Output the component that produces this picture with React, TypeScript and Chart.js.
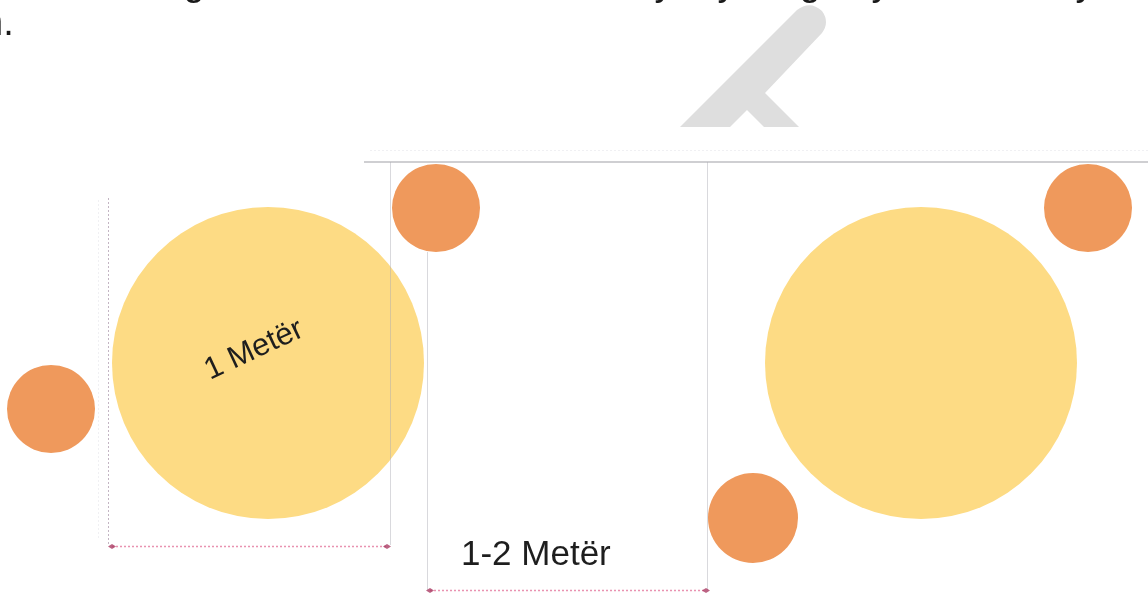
import React, { useEffect, useRef } from "react";
import { Chart, registerables } from "chart.js";

Chart.register(...registerables);

const W = 1148;
const H = 594;

// Large (yellow) circles
const bigX = [268, 921];
const bigY = [363, 363];
const bigR = [156, 156];

// Small (orange) circles
const smallX = [436, 51, 1088, 753];
const smallY = [208, 409, 208, 518];
const smallR = [44, 44, 44, 45];

const labelOne = "1 Metër";
const labelTwo = "1-2 Metër";
const topFragment = "n.";
const topGlyphs = ["g", ",", ",", "y", "y", "g", "y", ",", "y", ","];
const topGlyphX = [194, 288, 462, 664, 727, 810, 881, 1043, 1085, 1136];

const YELLOW = "#FDDB84";
const ORANGE = "#EF995C";

const overlay = {
  id: "overlay",
  beforeDatasetsDraw(chart: any) {
    const ctx = chart.ctx;
    ctx.save();
    // clipped line of text at top
    ctx.fillStyle = "#1a1a1a";
    ctx.font = "38px 'Liberation Sans', Arial, sans-serif";
    ctx.textBaseline = "alphabetic";
    ctx.textAlign = "left";
    ctx.fillText(topFragment, -18, 35);
    ctx.textAlign = "center";
    topGlyphs.forEach((g, i) => ctx.fillText(g, topGlyphX[i], -5));

    // watermark shape
    ctx.beginPath();
    ctx.rect(0, 0, W, 127);
    ctx.clip();
    ctx.fillStyle = "#dedede";
    ctx.beginPath();
    ctx.moveTo(660, 147);
    ctx.lineTo(797, 10);
    ctx.quadraticCurveTo(810, 0, 822, 11);
    ctx.quadraticCurveTo(830, 22, 822, 33);
    ctx.lineTo(765, 93);
    ctx.lineTo(820, 148);
    ctx.lineTo(785, 148);
    ctx.lineTo(747, 110);
    ctx.lineTo(710, 147);
    ctx.closePath();
    ctx.fill();
    ctx.restore();

    // faint guides under the circles
    ctx.save();
    ctx.strokeStyle = "rgba(205,205,215,0.3)";
    ctx.lineWidth = 1;
    ctx.setLineDash([2, 2]);
    ctx.beginPath();
    ctx.moveTo(98.5, 200);
    ctx.lineTo(98.5, 540);
    ctx.moveTo(370, 150.5);
    ctx.lineTo(1148, 150.5);
    ctx.stroke();
    ctx.restore();
  },
  afterDatasetsDraw(chart: any) {
    const ctx = chart.ctx;
    ctx.save();
    // solid gray guide lines
    ctx.strokeStyle = "rgba(170,170,175,0.75)";
    ctx.lineWidth = 1.5;
    ctx.beginPath();
    ctx.moveTo(364, 162);
    ctx.lineTo(1148, 162);
    ctx.stroke();
    ctx.strokeStyle = "rgba(170,170,180,0.45)";
    ctx.lineWidth = 1;
    ctx.beginPath();
    ctx.moveTo(390.5, 162);
    ctx.lineTo(390.5, 545);
    ctx.moveTo(427.5, 252);
    ctx.lineTo(427.5, 590);
    ctx.moveTo(707.5, 162);
    ctx.lineTo(707.5, 590);
    ctx.stroke();

    // dotted left vertical
    ctx.strokeStyle = "rgba(170,150,170,0.7)";
    ctx.setLineDash([2, 2]);
    ctx.beginPath();
    ctx.moveTo(108.5, 198);
    ctx.lineTo(108.5, 545);
    ctx.stroke();

    // pink dimension arrows
    const arrow = (x1: number, x2: number, y: number) => {
      ctx.strokeStyle = "rgba(225,110,150,0.75)";
      ctx.lineWidth = 1.5;
      ctx.setLineDash([2, 2]);
      ctx.beginPath();
      ctx.moveTo(x1, y);
      ctx.lineTo(x2, y);
      ctx.stroke();
      ctx.setLineDash([]);
      ctx.fillStyle = "rgba(170,60,100,0.8)";
      [x1, x2].forEach((x) => {
        ctx.beginPath();
        ctx.moveTo(x - 4, y);
        ctx.lineTo(x, y - 2.5);
        ctx.lineTo(x + 4, y);
        ctx.lineTo(x, y + 2.5);
        ctx.closePath();
        ctx.fill();
      });
    };
    arrow(112, 387, 546.5);
    arrow(430, 706, 590.5);
    ctx.restore();

    // labels
    ctx.save();
    ctx.fillStyle = "#1e1e1e";
    ctx.font = "31px 'Liberation Sans', Arial, sans-serif";
    ctx.textAlign = "center";
    ctx.textBaseline = "middle";
    ctx.translate(254, 350);
    ctx.rotate((-25 * Math.PI) / 180);
    ctx.fillText(labelOne, 0, 0);
    ctx.restore();

    ctx.save();
    ctx.fillStyle = "#1e1e1e";
    ctx.font = "35px 'Liberation Sans', Arial, sans-serif";
    ctx.textAlign = "left";
    ctx.textBaseline = "alphabetic";
    ctx.fillText(labelTwo, 461, 565);
    ctx.restore();
  },
};

export default function App() {
  const ref = useRef<HTMLCanvasElement>(null);

  useEffect(() => {
    if (!ref.current) return;
    const chart = new Chart(ref.current, {
      type: "bubble",
      data: {
        datasets: [
          {
            label: "big",
            data: bigX.map((x, i) => ({ x, y: bigY[i], r: bigR[i] })),
            backgroundColor: YELLOW,
            borderWidth: 0,
            clip: false,
          } as any,
          {
            label: "small",
            data: smallX.map((x, i) => ({ x, y: smallY[i], r: smallR[i] })),
            backgroundColor: ORANGE,
            borderWidth: 0,
            clip: false,
          } as any,
        ],
      },
      options: {
        animation: false,
        responsive: false,
        maintainAspectRatio: false,
        layout: { padding: 0, autoPadding: false },
        events: [],
        plugins: {
          legend: { display: false },
          tooltip: { enabled: false },
          title: { display: false },
        },
        scales: {
          x: { type: "linear", min: 0, max: W, display: false },
          y: { type: "linear", min: 0, max: H, reverse: true, display: false },
        },
      },
      plugins: [overlay],
    });
    return () => chart.destroy();
  }, []);

  return (
    <div style={{ position: "absolute", left: 0, top: 0, width: W, height: H, background: "#fff" }}>
      <canvas ref={ref} width={W} height={H} style={{ display: "block", width: W, height: H }} />
    </div>
  );
}
